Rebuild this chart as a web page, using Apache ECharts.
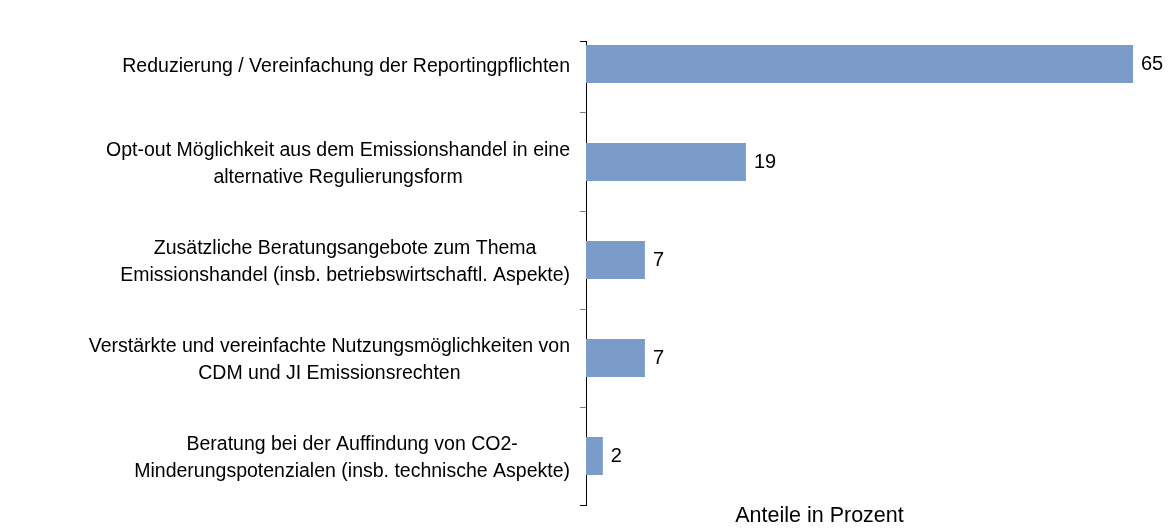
<!DOCTYPE html>
<html>
<head>
<meta charset="utf-8">
<script src="https://cdn.jsdelivr.net/npm/echarts@6/dist/echarts.min.js"></script>
<style>
  html, body { margin: 0; padding: 0; background: #fff; }
  #chart { width: 1173px; height: 528px; }
</style>
</head>
<body>
<div id="chart"></div>
<script>
// Kategorien (oben nach unten)
var categories = [
  'Reduzierung / Vereinfachung der Reportingpflichten',
  'Opt-out Möglichkeit aus dem Emissionshandel in eine\nalternative Regulierungsform',
  'Zusätzliche Beratungsangebote zum Thema\nEmissionshandel (insb. betriebswirtschaftl. Aspekte)',
  'Verstärkte und vereinfachte Nutzungsmöglichkeiten von\nCDM und JI Emissionsrechten',
  'Beratung bei der Auffindung von CO2-\nMinderungspotenzialen (insb. technische Aspekte)'
]
var values = [65, 19, 7, 7, 2]
var axisName = 'Anteile in Prozent'

var font = '"Liberation Sans", Arial, sans-serif'
var chart = echarts.init(document.getElementById('chart'))

chart.setOption({
  animation: false,
  grid: {
    left: 586,
    right: 40,
    top: 15,
    bottom: 23,
    outerBoundsMode: 'none',
    containLabel: false
  },
  xAxis: {
    type: 'value',
    min: 0,
    max: 65,
    show: true,
    axisLine: { show: false },
    axisTick: { show: false },
    axisLabel: { show: false },
    splitLine: { show: false },
    name: axisName,
    nameLocation: 'middle',
    nameGap: 0,
    nameTextStyle: {
      fontFamily: font,
      fontSize: 21.5,
      color: '#000',
      padding: [0, 80, 0, 0]
    }
  },
  yAxis: {
    type: 'category',
    inverse: true,
    data: categories,
    axisLine: { show: false },
    axisTick: { show: false },
    axisLabel: {
      margin: 16,
      align: 'right',
      padding: [5, 0, 0, 0],
      formatter: function(v) {
        return v.split('\n').map(function(l) { return '{c|' + l + '}' }).join('\n')
      },
      rich: {
        c: {
          align: 'center',
          fontFamily: font,
          fontSize: 19.5,
          lineHeight: 27,
          color: '#000'
        }
      }
    }
  },
  series: [{
    type: 'bar',
    data: values,
    barWidth: 38,
    itemStyle: { color: '#7b9cc9' },
    label: {
      show: true,
      position: 'right',
      distance: 8,
      fontFamily: font,
      fontSize: 20,
      color: '#000'
    }
  }],
  // Achsenlinie mit Teilstrichen (wie im Original, oben verkürzt)
  graphic: [
    { type: 'line', shape: { x1: 586.5, y1: 41, x2: 586.5, y2: 506 }, style: { stroke: '#000', lineWidth: 1 } },
    { type: 'line', shape: { x1: 580, y1: 41.5, x2: 586, y2: 41.5 }, style: { stroke: '#000', lineWidth: 1 } },
    { type: 'line', shape: { x1: 580, y1: 112.5, x2: 586, y2: 112.5 }, style: { stroke: '#808080', lineWidth: 1 } },
    { type: 'line', shape: { x1: 580, y1: 211.5, x2: 586, y2: 211.5 }, style: { stroke: '#808080', lineWidth: 1 } },
    { type: 'line', shape: { x1: 580, y1: 309.5, x2: 586, y2: 309.5 }, style: { stroke: '#808080', lineWidth: 1 } },
    { type: 'line', shape: { x1: 580, y1: 407.5, x2: 586, y2: 407.5 }, style: { stroke: '#808080', lineWidth: 1 } },
    { type: 'line', shape: { x1: 580, y1: 505.5, x2: 586, y2: 505.5 }, style: { stroke: '#000', lineWidth: 1 } }
  ]
})
</script>
</body>
</html>
